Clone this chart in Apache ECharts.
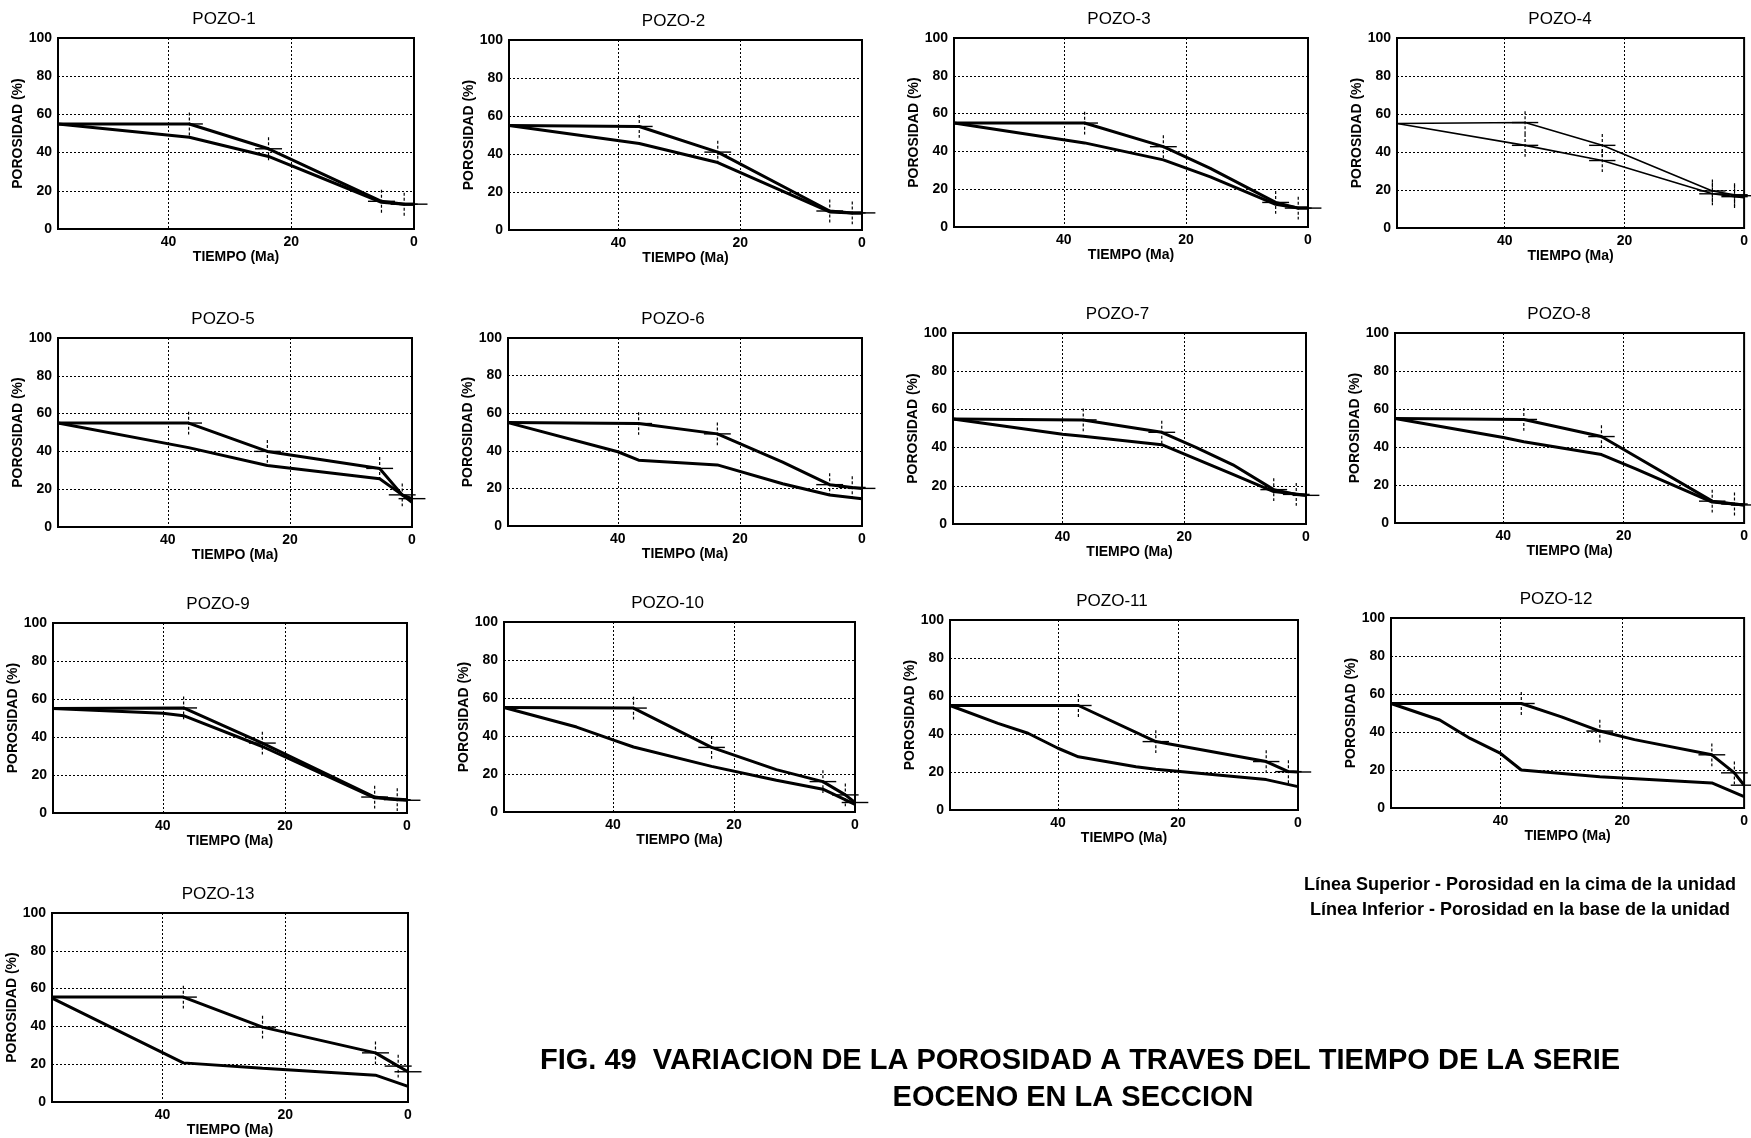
<!DOCTYPE html>
<html><head><meta charset="utf-8">
<script src="https://cdn.jsdelivr.net/npm/echarts@6/dist/echarts.min.js"></script>
<style>html,body{margin:0;padding:0;background:#fff}#c{width:1751px;height:1138px}</style>
</head><body><div id="c"></div>
<script>
// ---- data ----
const titles = ['POZO-1','POZO-2','POZO-3','POZO-4','POZO-5','POZO-6','POZO-7','POZO-8','POZO-9','POZO-10','POZO-11','POZO-12','POZO-13'];
const knots = [36.6, 23.7, 5.3, 1.6];   // Ma, error-bar positions
const xTicks = [0, 20, 40];
const yTicks = [0, 20, 40, 60, 80, 100];

const sup1 = [[58,55],[36.6,55],[23.7,42],[5.3,14.5],[1.6,13],[0,13]];
const inf1 = [[58,55],[36.6,48],[23.7,38],[5.3,14],[1.6,13],[0,13]];
const sup2 = [[58,55],[36.6,54.5],[23.7,41],[5.3,10],[1.6,9],[0,9]];
const inf2 = [[58,55],[36.6,45.5],[23.7,35.5],[5.3,9.5],[1.6,9],[0,9]];
const sup3 = [[58,55],[36.6,55],[23.7,42.5],[16,31],[5.3,13],[1.6,10],[0,10]];
const inf3 = [[58,55],[36.6,44.5],[23.7,35.5],[16,26.5],[5.3,12],[1.6,10],[0,10]];
const sup4 = [[58,55],[36.6,55.5],[23.7,43.5],[5.3,19.5],[1.6,17.5],[0,17]];
const inf4 = [[58,55],[36.6,43.5],[23.7,35.5],[5.3,18],[1.6,16.5],[0,16]];
const sup5 = [[58,55],[36.6,55],[23.7,40],[5.3,31],[1.6,17],[0,15]];
const inf5 = [[58,55],[36.6,42],[23.7,32.5],[5.3,25.5],[1.6,17],[0,13]];
const sup6 = [[58,55],[36.6,54.5],[23.7,49],[13,34],[5.3,22],[1.6,20.5],[0,20]];
const inf6 = [[58,55],[40,39.5],[36.6,35],[23.7,32.5],[13,22.5],[5.3,16.5],[0,14.5]];
const sup7 = [[58,55],[36.6,54.5],[23.7,48],[18,40],[12,31],[5.3,18],[1.6,15.5],[0,15]];
const inf7 = [[58,55],[40,47],[36.6,46],[23.7,41.5],[18,34],[12,26],[5.3,17],[0,15]];
const sup8 = [[58,55],[36.6,54.5],[23.7,45.5],[18,35],[5.3,11.5],[1.6,10],[0,9.5]];
const inf8 = [[58,55],[40,45],[36.6,42.8],[23.7,36],[18,28.5],[5.3,11],[0,9.5]];
const sup9 = [[58,55],[36.6,55.3],[23.7,36.8],[5.3,8.4],[1.6,7],[0,6.7]];
const inf9 = [[58,55],[40,52.5],[36.6,51.2],[23.7,35],[5.3,8],[0,7]];
const sup10 = [[58,55],[36.6,54.7],[23.7,34],[13,22.3],[5.3,16],[1.6,9],[0,5]];
const inf10 = [[58,55],[46,44.7],[40,38],[36.6,34.2],[23.7,24],[13,16.7],[5.3,12],[0,4]];
const sup11 = [[58,55],[36.6,55],[23.7,36],[5.3,25.5],[1.6,20.2],[0,20]];
const inf11 = [[58,55],[50,45.6],[45,40.4],[40,32.5],[36.6,28],[27,22.8],[23.7,21.4],[5.3,16],[0,12.3]];
const sup12 = [[58,55],[36.6,55],[30,48],[23.7,40.5],[18,36],[5.3,28],[1.6,18.5],[0,12]];
const inf12 = [[58,55],[50,46.3],[45,36.6],[40,28.7],[36.6,20],[23.7,16.4],[5.3,13.2],[0,6]];
const sup13 = [[58,55.5],[36.6,55.5],[23.7,39.6],[5.3,26],[1.6,19],[0,16]];
const inf13 = [[58,55],[36.6,20.7],[23.7,17.8],[5.3,14.2],[0,8.3]];

const supAll = [sup1,sup2,sup3,sup4,sup5,sup6,sup7,sup8,sup9,sup10,sup11,sup12,sup13];
const infAll = [inf1,inf2,inf3,inf4,inf5,inf6,inf7,inf8,inf9,inf10,inf11,inf12,inf13];
const infCrossPanels = [3]; // panel index with error bars on lower line too

// ---- layout / style ----
const grids = [
  [58,38,356,191],[509,40,353,190],[954,38,354,189],[1397,38,350,190],
  [58,338,354,189],[508,338,354,188],[953,333,353,191],[1395,333,352,190],
  [53,623,354,190],[504,622,351,190],[950,620,348,190],[1391,618,354,190],
  [52,913,356,189]
];
const lineW = [3,3,3,1.6,3,3,3,3,3,3,3,3,3];
const FONT = '"Liberation Sans", Arial, sans-serif';

const option = {
  animation:false, backgroundColor:'#fff',
  grid:[], xAxis:[], yAxis:[], series:[], graphic:[]
};

function crossesFrom(arr, withEnd){
  const out = [];
  arr.forEach(p => { if (knots.indexOf(p[0]) >= 0) out.push([p[0], p[1], 0]); });
  if (withEnd) { const last = arr[arr.length-1]; out.push([last[0], last[1], 1]); }
  return out;
}

function renderCross(params, api){
  const x = api.value(0), y = api.value(1), kind = api.value(2);
  const hw = 2.2, vh = 6;
  const L = api.coord([x+hw, y]), R = api.coord([x-hw, y]);
  const children = [{type:'line', shape:{x1:L[0],y1:L[1],x2:R[0],y2:R[1]}, style:{stroke:'#000', lineWidth:1.4}}];
  if (kind === 0) {
    const T = api.coord([x, y+vh]), B = api.coord([x, y-vh]);
    children.push({type:'line', shape:{x1:T[0],y1:T[1],x2:B[0],y2:B[1]}, style:{stroke:'#000', lineWidth:1.2, lineDash:[3,2]}});
  }
  return {type:'group', children};
}

grids.forEach((g, i) => {
  option.grid.push({left:g[0], top:g[1], width:g[2], height:g[3], show:true, borderColor:'#000', borderWidth:2, backgroundColor:'transparent'});
  option.xAxis.push({
    type:'value', gridIndex:i, min:0, max:58, inverse:true, interval:20, position:'bottom',
    name:'TIEMPO (Ma)', nameLocation:'middle', nameGap:20,
    nameTextStyle:{fontFamily:FONT, fontWeight:'bold', fontSize:14, color:'#000'},
    axisLine:{show:true, onZero:false, lineStyle:{color:'#000', width:2}},
    axisTick:{show:false},
    axisLabel:{showMaxLabel:false, fontFamily:FONT, fontWeight:'bold', fontSize:14, color:'#000', margin:6},
    splitLine:{show:true, lineStyle:{color:'#000', width:1, type:[2,2]}}
  });
  option.yAxis.push({
    type:'value', gridIndex:i, min:0, max:100, interval:20, position:'left',
    name:'POROSIDAD (%)', nameLocation:'middle', nameGap:28, nameRotate:90,
    nameTextStyle:{fontFamily:FONT, fontWeight:'bold', fontSize:14, color:'#000'},
    axisLine:{show:true, onZero:false, lineStyle:{color:'#000', width:2}},
    axisTick:{show:false},
    axisLabel:{fontFamily:FONT, fontWeight:'bold', fontSize:14, color:'#000', margin:6},
    splitLine:{show:true, lineStyle:{color:'#000', width:1, type:[2,2]}}
  });
  option.series.push({type:'line', xAxisIndex:i, yAxisIndex:i, data:supAll[i], showSymbol:false, symbol:'none',
    lineStyle:{color:'#000', width:lineW[i]}, z:3, silent:true});
  option.series.push({type:'line', xAxisIndex:i, yAxisIndex:i, data:infAll[i], showSymbol:false, symbol:'none',
    lineStyle:{color:'#000', width:lineW[i]}, z:3, silent:true});
  let cr = crossesFrom(supAll[i], true);
  if (infCrossPanels.indexOf(i) >= 0) cr = cr.concat(crossesFrom(infAll[i], false));
  option.series.push({type:'custom', coordinateSystem:'cartesian2d', xAxisIndex:i, yAxisIndex:i, data:cr,
    renderItem:renderCross, clip:false, z:4, silent:true});
  option.graphic.push({type:'text', x:g[0]+g[2]/2-12, y:g[1]-19,
    style:{text:titles[i], align:'center', verticalAlign:'middle', font:'17px '+FONT, fill:'#000'}});
});

option.graphic.push(
  {type:'text', x:1520, y:885, style:{text:'Línea Superior - Porosidad en la cima de la unidad', align:'center', verticalAlign:'middle', font:'bold 18px '+FONT, fill:'#000'}},
  {type:'text', x:1520, y:910, style:{text:'Línea Inferior - Porosidad en la base de la unidad', align:'center', verticalAlign:'middle', font:'bold 18px '+FONT, fill:'#000'}},
  {type:'text', x:1080, y:1061, style:{text:'FIG. 49  VARIACION DE LA POROSIDAD A TRAVES DEL TIEMPO DE LA SERIE', align:'center', verticalAlign:'middle', font:'bold 29px '+FONT, fill:'#000'}},
  {type:'text', x:1073, y:1098, style:{text:'EOCENO EN LA SECCION', align:'center', verticalAlign:'middle', font:'bold 29px '+FONT, fill:'#000'}}
);

const chart = echarts.init(document.getElementById('c'), null, {renderer:'canvas'});
chart.setOption(option);
</script></body></html>
